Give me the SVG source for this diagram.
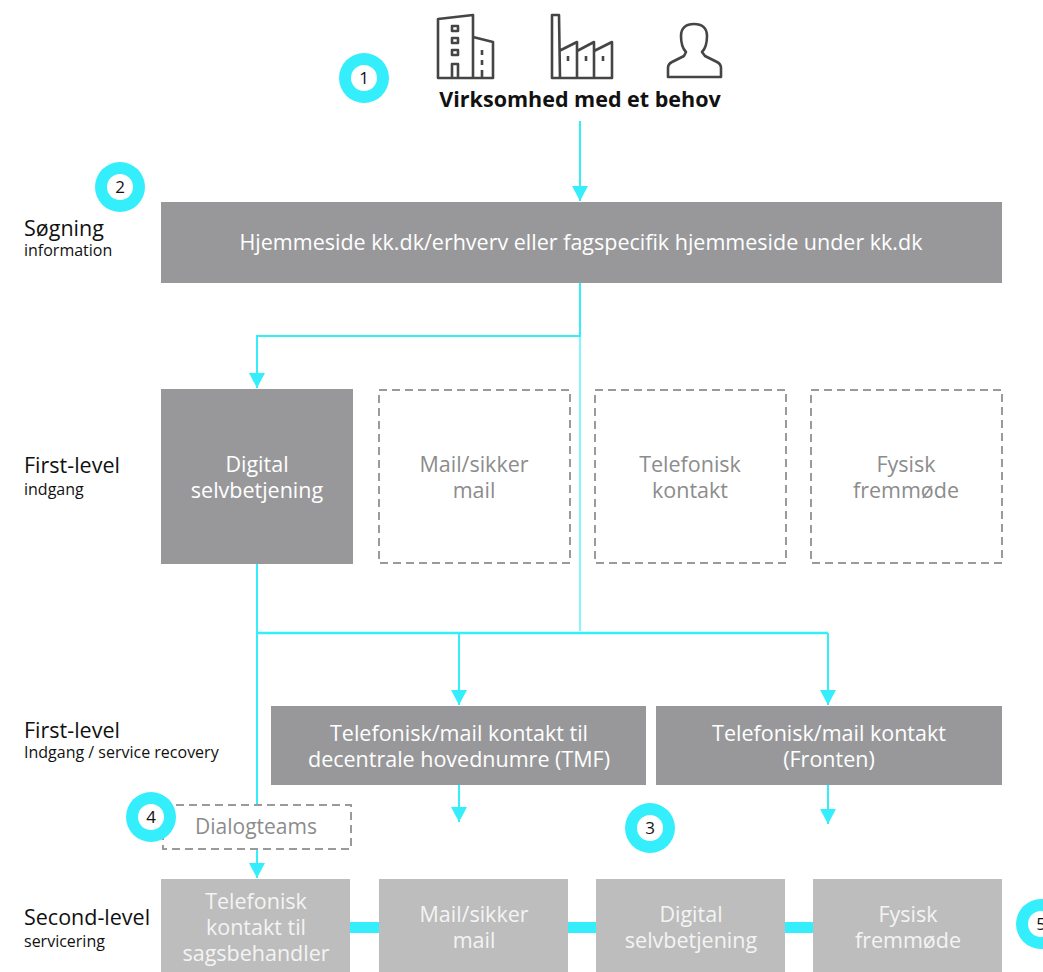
<svg xmlns="http://www.w3.org/2000/svg" width="1043" height="972" viewBox="0 0 1043 972">
<style>
text{font-family:"Open Sans","Noto Sans","Liberation Sans",sans-serif}
.dark{fill:#98989a}
.light{fill:#bdbdbd}
.dash{fill:none;stroke:#9a9a9a;stroke-width:2;stroke-dasharray:8 5}
.tw{fill:#ffffff;font-size:21.5px;text-anchor:middle}
.tl{fill:#f4f4f4;font-size:21.5px;text-anchor:middle}
.tg{fill:#8c8c8c;font-size:21.5px;text-anchor:middle}
.lab{fill:#111;font-size:21.5px}
.sub{fill:#111;font-size:16px}
.con{fill:none;stroke:#35eefc;stroke-width:2}
.ring{fill:#35eefc}
.hole{fill:#fff}
.num{fill:#111;font-size:17px;text-anchor:middle}
.ico{fill:none;stroke:#454545;stroke-width:2.6;stroke-linejoin:round}
</style>
<defs>
<marker id="ah" markerUnits="userSpaceOnUse" markerWidth="16" markerHeight="16" refX="15" refY="8" orient="auto">
<path d="M0,0 L15,8 L0,16 Z" fill="#35eefc"/>
</marker>
</defs>
<rect width="1043" height="972" fill="#fff"/>

<g id="icons">
<path class="ico" d="M438,78 V19 L473,15 V78 Z M473,37 L493,42 V78 H473"/>
<rect class="ico" x="452" y="26" width="6" height="5"/>
<rect class="ico" x="452" y="38" width="6" height="5"/>
<rect class="ico" x="452" y="50" width="6" height="5"/>
<path class="ico" d="M452,78 V64 H458 V78"/>
<path class="ico" d="M482,50 V55 M482,60 V65 M482,70 V78"/>
<path class="ico" d="M552,78 V15 H559 L560,78 Z M559,51 L577,42 V78 M577,51 L594,42 V78 M594,51 L612,42 V78 H552"/>
<path class="ico" d="M568,56 V61 M586,56 V61 M603,56 V61"/>
<path class="ico" d="M686,52 C682,48 681,43 681,36 C681,28 686,24 694,24 C702,24 707,28 707,36 C707,43 706,48 702,52 L705,56 L717,62 Q721,64 721,68 L721,77 L668,77 L668,68 Q668,64 672,62 L684,56 Z"/>
</g>
<g id="title">
<text x="580" y="107" style="font-size:21.5px;font-weight:bold;fill:#111;text-anchor:middle">Virksomhed med et behov</text>
</g>

<g id="labels">
<text class="lab" x="24" y="236">Søgning</text>
<text class="sub" x="24" y="256">information</text>
<text class="lab" x="24" y="473">First-level</text>
<text class="sub" x="24" y="495">indgang</text>
<text class="lab" x="24" y="738">First-level</text>
<text class="sub" x="24" y="758">Indgang / service recovery</text>
<text class="lab" x="24" y="925">Second-level</text>
<text class="sub" x="24" y="947">servicering</text>
</g>

<g id="connectors">
<path class="con" d="M580,121 V201" marker-end="url(#ah)"/>
<path class="con" d="M580,283 V336 H257 V388" marker-end="url(#ah)"/>
<path d="M580,336 V631" fill="none" stroke="#35eefc" stroke-width="1.2"/>
<path class="con" d="M257,564 V804"/>
<path class="con" style="stroke-width:2.5" d="M257,633 H828"/>
<path class="con" d="M459,633 V705" marker-end="url(#ah)"/>
<path class="con" d="M828,633 V705" marker-end="url(#ah)"/>
<path class="con" d="M257,850 V878" marker-end="url(#ah)"/>
<path class="con" d="M459,785 V822" marker-end="url(#ah)"/>
<path class="con" d="M828,785 V824" marker-end="url(#ah)"/>
<rect x="350" y="922" width="29" height="11" fill="#35eefc"/>
<rect x="568" y="922" width="28" height="11" fill="#35eefc"/>
<rect x="785" y="922" width="28" height="11" fill="#35eefc"/>
</g>

<g id="n-hjemmeside">
<rect class="dark" x="161" y="202" width="841" height="81"/>
<text class="tw" x="581" y="250">Hjemmeside kk.dk/erhverv eller fagspecifik hjemmeside under kk.dk</text>
</g>
<g id="n-digital1">
<rect class="dark" x="161" y="389" width="192" height="175"/>
<text class="tw" x="257" y="472">Digital</text>
<text class="tw" x="257" y="498">selvbetjening</text>
</g>
<g id="n-mail1">
<rect class="dash" x="379" y="390" width="191" height="173"/>
<text class="tg" x="474" y="472">Mail/sikker</text>
<text class="tg" x="474" y="498">mail</text>
</g>
<g id="n-tel1">
<rect class="dash" x="595" y="390" width="191" height="173"/>
<text class="tg" x="690" y="472">Telefonisk</text>
<text class="tg" x="690" y="498">kontakt</text>
</g>
<g id="n-fysisk1">
<rect class="dash" x="811" y="390" width="191" height="173"/>
<text class="tg" x="906" y="472">Fysisk</text>
<text class="tg" x="906" y="498">fremmøde</text>
</g>
<g id="n-tmf">
<rect class="dark" x="271" y="706" width="375" height="79"/>
<text class="tw" x="459" y="741">Telefonisk/mail kontakt til</text>
<text class="tw" x="459" y="767">decentrale hovednumre (TMF)</text>
</g>
<g id="n-fronten">
<rect class="dark" x="656" y="706" width="346" height="79"/>
<text class="tw" x="829" y="741">Telefonisk/mail kontakt</text>
<text class="tw" x="829" y="767">(Fronten)</text>
</g>
<g id="n-dialog">
<rect class="dash" x="163" y="805" width="188" height="44"/>
<text class="tg" x="256" y="834" style="font-size:21px">Dialogteams</text>
</g>
<g id="n-tel2">
<rect class="light" x="161" y="879" width="189" height="93"/>
<text class="tl" x="256" y="909">Telefonisk</text>
<text class="tl" x="256" y="935">kontakt til</text>
<text class="tl" x="256" y="961">sagsbehandler</text>
</g>
<g id="n-mail2">
<rect class="light" x="379" y="879" width="189" height="93"/>
<text class="tl" x="474" y="922">Mail/sikker</text>
<text class="tl" x="474" y="948">mail</text>
</g>
<g id="n-digital2">
<rect class="light" x="596" y="879" width="189" height="93"/>
<text class="tl" x="691" y="922">Digital</text>
<text class="tl" x="691" y="948">selvbetjening</text>
</g>
<g id="n-fysisk2">
<rect class="light" x="813" y="879" width="189" height="93"/>
<text class="tl" x="908" y="922">Fysisk</text>
<text class="tl" x="908" y="948">fremmøde</text>
</g>

<g id="badge1"><circle class="ring" cx="364" cy="78" r="25"/><circle class="hole" cx="364" cy="78" r="13"/><text class="num" x="364" y="84">1</text></g>
<g id="badge2"><circle class="ring" cx="120" cy="187" r="25"/><circle class="hole" cx="120" cy="187" r="13"/><text class="num" x="120" y="193">2</text></g>
<g id="badge3"><circle class="ring" cx="650" cy="828" r="25"/><circle class="hole" cx="650" cy="828" r="13"/><text class="num" x="650" y="834">3</text></g>
<g id="badge4"><circle class="ring" cx="151" cy="817" r="25"/><circle class="hole" cx="151" cy="817" r="13"/><text class="num" x="151" y="823">4</text></g>
<g id="badge5"><circle class="ring" cx="1041" cy="924" r="25"/><circle class="hole" cx="1041" cy="924" r="13"/><text class="num" x="1041" y="930">5</text></g>
</svg>
